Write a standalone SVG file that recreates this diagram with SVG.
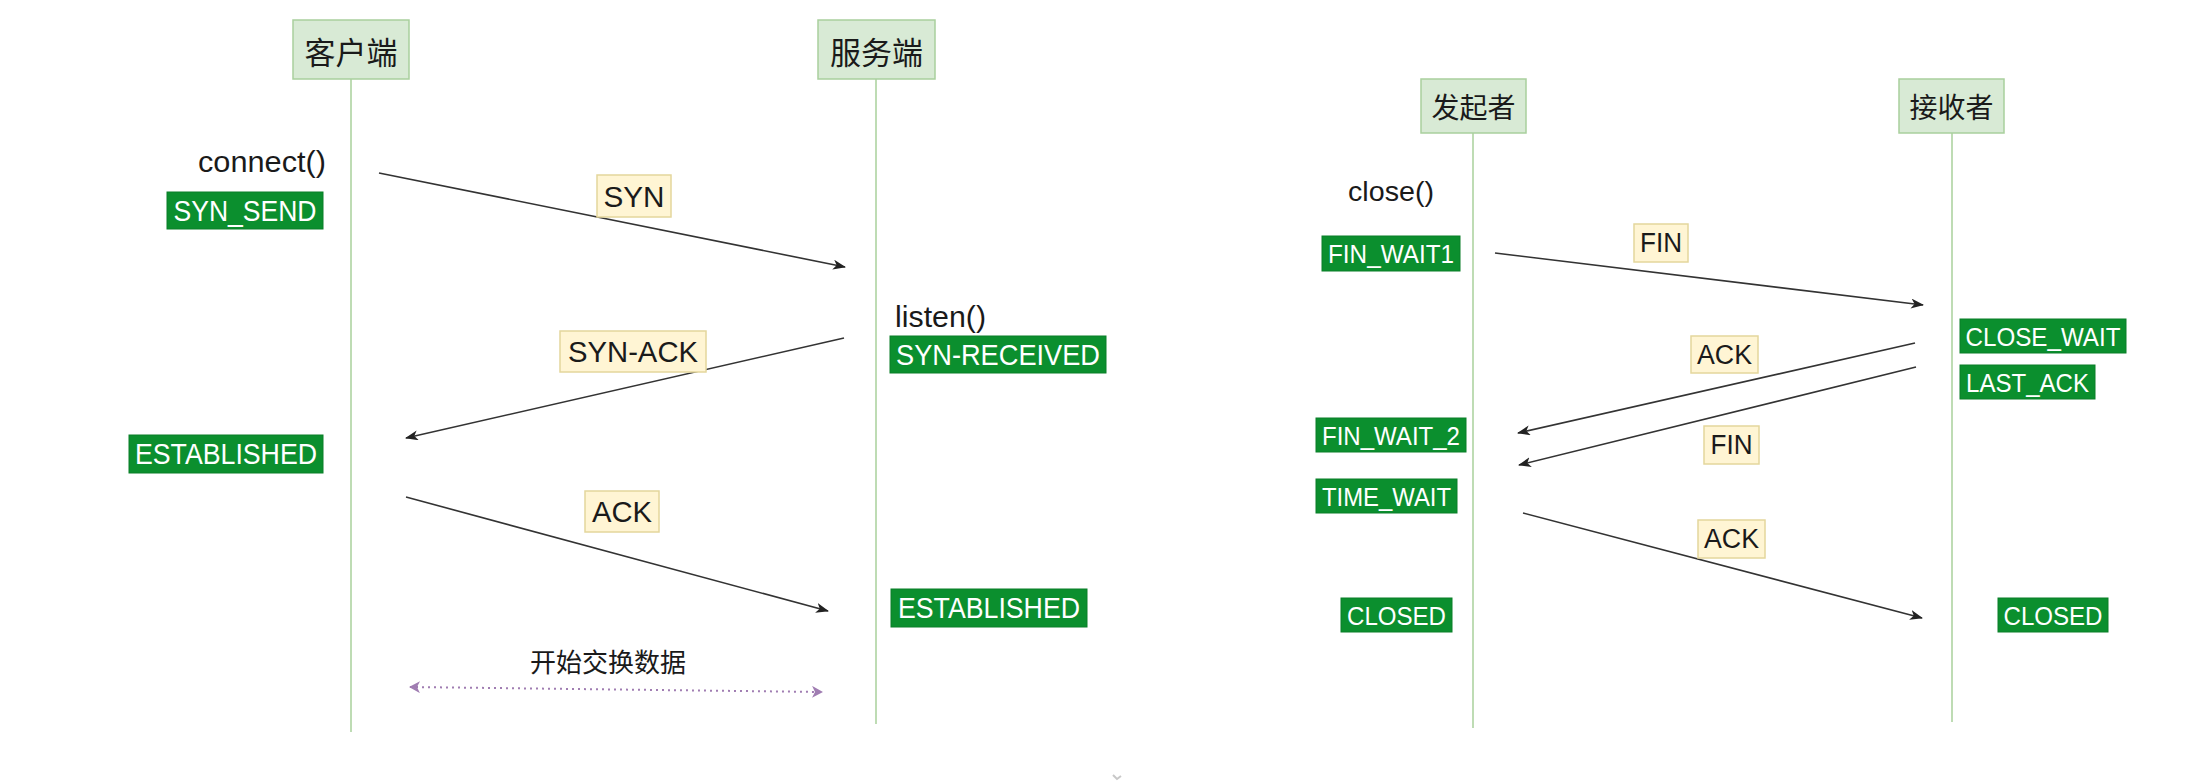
<svg xmlns="http://www.w3.org/2000/svg" width="2212" height="782" viewBox="0 0 2212 782">
<style>
.hdr{fill:#d8ead5;stroke:#a9cf9d;stroke-width:1.5}
.life{stroke:#a9d19b;stroke-width:1.5;fill:none}
.st{fill:#0b8f2e;stroke:#0a7f28;stroke-width:1}
.lbl{fill:#fff5d4;stroke:#e4d69c;stroke-width:1.5}
.t{font-family:"Liberation Sans",Arial,sans-serif;fill:#1a1a1a}
.w{font-family:"Liberation Sans",Arial,sans-serif;fill:#ffffff;text-anchor:middle;dominant-baseline:central}
.cjk{font-family:"Noto Sans CJK SC","Liberation Sans",sans-serif;fill:#1a1a1a}
.msg{stroke:#333333;stroke-width:1.6;fill:none;marker-end:url(#arr)}
.dot{stroke:#a07db2;stroke-width:2;stroke-dasharray:2 4;fill:none;marker-start:url(#parrS);marker-end:url(#parrE)}
</style>
<defs>
<marker id="arr" markerUnits="userSpaceOnUse" markerWidth="14" markerHeight="10" refX="12" refY="5" orient="auto">
<path d="M0,0 L13,5 L0,10 L3.5,5 z" fill="#222222"/>
</marker>
<marker id="parrE" markerUnits="userSpaceOnUse" markerWidth="12" markerHeight="12" refX="10" refY="6" orient="auto">
<path d="M0,0 L11,6 L0,12 L3,6 z" fill="#a07db2"/>
</marker>
<marker id="parrS" markerUnits="userSpaceOnUse" markerWidth="12" markerHeight="12" refX="2" refY="6" orient="auto">
<path d="M12,0 L1,6 L12,12 L9,6 z" fill="#a07db2"/>
</marker>
</defs>
<rect width="2212" height="782" fill="#ffffff"/>

<g id="lifelines">
<line class="life" x1="351" y1="79" x2="351" y2="732"/>
<line class="life" x1="876" y1="79" x2="876" y2="724"/>
<line class="life" x1="1473" y1="133" x2="1473" y2="728"/>
<line class="life" x1="1952" y1="133" x2="1952" y2="722"/>
</g>

<g id="client">
<rect class="hdr" x="293" y="20" width="116" height="59"/>
<text class="cjk" x="351" y="50" font-size="31" text-anchor="middle" dominant-baseline="central">客户端</text>
</g>
<g id="server">
<rect class="hdr" x="818" y="20" width="117" height="59"/>
<text class="cjk" x="876.5" y="50" font-size="31" text-anchor="middle" dominant-baseline="central">服务端</text>
</g>
<g id="initiator">
<rect class="hdr" x="1421" y="79" width="105" height="54"/>
<text class="cjk" x="1473.5" y="106" font-size="28" text-anchor="middle" dominant-baseline="central">发起者</text>
</g>
<g id="receiver">
<rect class="hdr" x="1899" y="79" width="105" height="54"/>
<text class="cjk" x="1951.5" y="106" font-size="28" text-anchor="middle" dominant-baseline="central">接收者</text>
</g>

<g id="connect-call"><text class="t" x="326" y="172" font-size="30" text-anchor="end" textLength="128" lengthAdjust="spacingAndGlyphs">connect()</text></g>
<g id="listen-call"><text class="t" x="895" y="327" font-size="30" textLength="91" lengthAdjust="spacingAndGlyphs">listen()</text></g>
<g id="close-call"><text class="t" x="1348" y="201" font-size="28" textLength="86" lengthAdjust="spacingAndGlyphs">close()</text></g>
<g id="exchange-label"><text class="cjk" x="608" y="660" font-size="26" text-anchor="middle" dominant-baseline="central">开始交换数据</text></g>

<g id="syn-send"><rect class="st" x="167" y="192" width="156" height="37"/><text class="w" x="245" y="211" font-size="29" textLength="143" lengthAdjust="spacingAndGlyphs">SYN_SEND</text></g>
<g id="syn-received"><rect class="st" x="890" y="336" width="216" height="37"/><text class="w" x="998" y="355" font-size="29" textLength="204" lengthAdjust="spacingAndGlyphs">SYN-RECEIVED</text></g>
<g id="established-client"><rect class="st" x="129" y="435" width="194" height="38"/><text class="w" x="226" y="454" font-size="29" textLength="182" lengthAdjust="spacingAndGlyphs">ESTABLISHED</text></g>
<g id="established-server"><rect class="st" x="891" y="589" width="196" height="38"/><text class="w" x="989" y="608" font-size="29" textLength="182" lengthAdjust="spacingAndGlyphs">ESTABLISHED</text></g>

<g id="fin-wait1"><rect class="st" x="1322" y="236" width="138" height="35"/><text class="w" x="1391" y="254" font-size="26" textLength="126" lengthAdjust="spacingAndGlyphs">FIN_WAIT1</text></g>
<g id="close-wait"><rect class="st" x="1960" y="319" width="166" height="34"/><text class="w" x="2043" y="336.5" font-size="26" textLength="155" lengthAdjust="spacingAndGlyphs">CLOSE_WAIT</text></g>
<g id="last-ack"><rect class="st" x="1960" y="365" width="135" height="34"/><text class="w" x="2027.5" y="382.5" font-size="26" textLength="123" lengthAdjust="spacingAndGlyphs">LAST_ACK</text></g>
<g id="fin-wait2"><rect class="st" x="1316" y="418" width="150" height="34"/><text class="w" x="1391" y="435.5" font-size="26" textLength="138" lengthAdjust="spacingAndGlyphs">FIN_WAIT_2</text></g>
<g id="time-wait"><rect class="st" x="1316" y="479" width="141" height="34"/><text class="w" x="1386.5" y="496.5" font-size="26" textLength="129" lengthAdjust="spacingAndGlyphs">TIME_WAIT</text></g>
<g id="closed-initiator"><rect class="st" x="1341" y="598" width="111" height="34"/><text class="w" x="1396.5" y="615.5" font-size="26" textLength="99" lengthAdjust="spacingAndGlyphs">CLOSED</text></g>
<g id="closed-receiver"><rect class="st" x="1998" y="598" width="110" height="34"/><text class="w" x="2053" y="615.5" font-size="26" textLength="99" lengthAdjust="spacingAndGlyphs">CLOSED</text></g>

<g id="connectors">
<line class="msg" x1="379" y1="173" x2="845" y2="267"/>
<line class="msg" x1="844" y1="338" x2="406" y2="438"/>
<line class="msg" x1="406" y1="497" x2="828" y2="611"/>
<line class="dot" x1="410" y1="687" x2="822" y2="692"/>
<line class="msg" x1="1495" y1="253" x2="1923" y2="305"/>
<line class="msg" x1="1915" y1="343" x2="1518" y2="433"/>
<line class="msg" x1="1916" y1="367" x2="1519" y2="465"/>
<line class="msg" x1="1523" y1="513" x2="1922" y2="618"/>
</g>

<g id="label-syn"><rect class="lbl" x="597" y="175" width="74" height="42"/><text class="t" x="634" y="196" font-size="30" text-anchor="middle" dominant-baseline="central" textLength="61" lengthAdjust="spacingAndGlyphs">SYN</text></g>
<g id="label-syn-ack"><rect class="lbl" x="560" y="331" width="146" height="41"/><text class="t" x="633" y="351.5" font-size="30" text-anchor="middle" dominant-baseline="central" textLength="130" lengthAdjust="spacingAndGlyphs">SYN-ACK</text></g>
<g id="label-ack1"><rect class="lbl" x="585" y="491" width="74" height="41"/><text class="t" x="622" y="511.5" font-size="30" text-anchor="middle" dominant-baseline="central" textLength="60" lengthAdjust="spacingAndGlyphs">ACK</text></g>
<g id="label-fin1"><rect class="lbl" x="1634" y="224" width="54" height="38"/><text class="t" x="1661" y="243" font-size="27" text-anchor="middle" dominant-baseline="central" textLength="42" lengthAdjust="spacingAndGlyphs">FIN</text></g>
<g id="label-ack2"><rect class="lbl" x="1691" y="336" width="67" height="37"/><text class="t" x="1724.5" y="354.5" font-size="27" text-anchor="middle" dominant-baseline="central" textLength="55" lengthAdjust="spacingAndGlyphs">ACK</text></g>
<g id="label-fin2"><rect class="lbl" x="1704" y="426" width="55" height="38"/><text class="t" x="1731.5" y="445" font-size="27" text-anchor="middle" dominant-baseline="central" textLength="42" lengthAdjust="spacingAndGlyphs">FIN</text></g>
<g id="label-ack3"><rect class="lbl" x="1698" y="520" width="67" height="38"/><text class="t" x="1731.5" y="539" font-size="27" text-anchor="middle" dominant-baseline="central" textLength="55" lengthAdjust="spacingAndGlyphs">ACK</text></g>

<path d="M1113,775 L1117,779 L1121,776" stroke="#c8c8c8" stroke-width="2" fill="none"/>
</svg>
